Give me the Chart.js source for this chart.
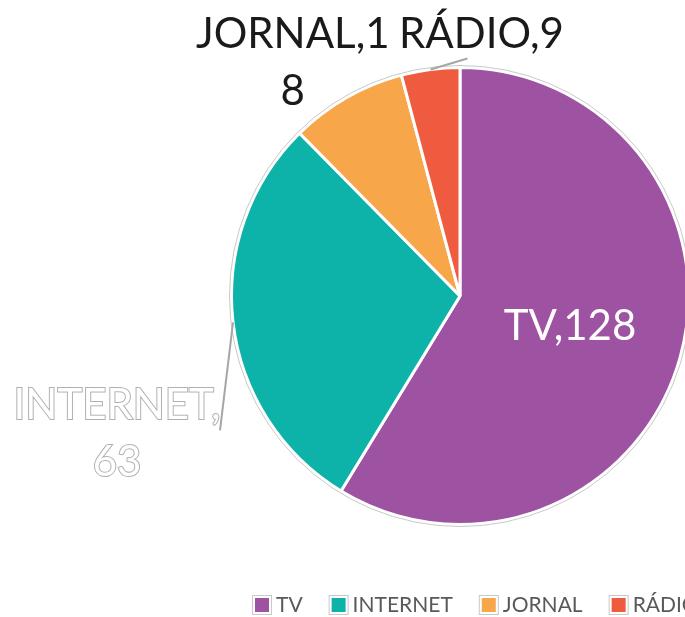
<!DOCTYPE html>
<html>
<head>
<meta charset="utf-8">
<script src="https://cdn.jsdelivr.net/npm/chart.js@4.4.1/dist/chart.umd.min.js"></script>
<style>
  html, body { margin: 0; padding: 0; background: #fff; overflow: hidden; }
  canvas { display: block; }
</style>
</head>
<body>
<canvas id="chart" width="720" height="617"></canvas>
<script>
// data
const categories = ['TV', 'INTERNET', 'JORNAL', 'RÁDIO'];
const values = [128, 63, 18, 9];
const sliceColors = ['#9E52A2', '#0DB2A8', '#F8A64A', '#EE5B3E'];

// where each value label goes (offset from the slice's outer edge point)
const labelLayout = [
    { inside: true, color: '#ffffff' },
    { dx: -116, dy: 83, maxWidth: 222, outline: true, line: { dx: -13, dy: 108 } },
    { dx: -54, dy: -63, maxWidth: 200, color: '#1a1a1a' },
    { dx: 51, dy: -35, maxWidth: 400, color: '#1a1a1a', line: { dx: 37, dy: -11 } },
];

const FONT = 'Lato, "Open Sans", sans-serif';

function wrapChars(ctx, text, maxWidth) {
    const lines = [];
    let cur = '';
    for (const ch of text) {
        if (cur && ctx.measureText(cur + ch).width > maxWidth) {
            lines.push(cur);
            cur = ch;
        } else {
            cur += ch;
        }
    }
    if (cur) lines.push(cur);
    return lines;
}

const pieLabels = {
    id: 'pieLabels',
    afterDatasetsDraw(chart) {
        const ctx = chart.ctx;
        const meta = chart.getDatasetMeta(0);
        const first = meta.data[0];

        // faint outline round the pie
        ctx.save();
        ctx.beginPath();
        ctx.arc(first.x, first.y, first.outerRadius + 2, 0, Math.PI * 2);
        ctx.strokeStyle = '#c8c8c8';
        ctx.lineWidth = 1;
        ctx.stroke();
        ctx.restore();

        meta.data.forEach((arc, i) => {
            const cfg = labelLayout[i];
            const text = categories[i] + ',' + chart.data.datasets[0].data[i];
            ctx.save();
            ctx.font = '42px ' + FONT;
            ctx.textAlign = 'center';
            ctx.textBaseline = 'middle';
            if (cfg.inside) {
                const p = arc.tooltipPosition();
                ctx.fillStyle = cfg.color;
                ctx.fillText(text, p.x, p.y);
                ctx.restore();
                return;
            }
            const mid = (arc.startAngle + arc.endAngle) / 2;
            const ax = arc.x + Math.cos(mid) * arc.outerRadius;
            const ay = arc.y + Math.sin(mid) * arc.outerRadius;
            if (cfg.line) {
                ctx.beginPath();
                ctx.moveTo(ax, ay);
                ctx.lineTo(ax + cfg.line.dx, ay + cfg.line.dy);
                ctx.strokeStyle = '#a6a6a6';
                ctx.lineWidth = 2;
                ctx.stroke();
            }
            const lines = wrapChars(ctx, text, cfg.maxWidth);
            lines.forEach((ln, k) => {
                const tx = ax + cfg.dx;
                const ty = ay + cfg.dy + k * 57;
                if (cfg.outline) {
                    ctx.lineWidth = 2;
                    ctx.strokeStyle = '#b0b0b0';
                    ctx.strokeText(ln, tx, ty);
                    ctx.fillStyle = '#ffffff';
                    ctx.fillText(ln, tx, ty);
                } else {
                    ctx.fillStyle = cfg.color;
                    ctx.fillText(ln, tx, ty);
                }
            });
            ctx.restore();
        });
    },
    afterDraw(chart) {
        // legend along the bottom
        const ctx = chart.ctx;
        ctx.save();
        ctx.font = '21px ' + FONT;
        ctx.textBaseline = 'middle';
        let x = 252;
        const y = 605;
        categories.forEach((name, i) => {
            ctx.strokeStyle = '#c8c8c8';
            ctx.lineWidth = 1;
            ctx.strokeRect(x + 0.5, y - 9.5, 19, 19);
            ctx.fillStyle = sliceColors[i];
            ctx.fillRect(x + 3, y - 7, 14, 14);
            ctx.fillStyle = '#595959';
            ctx.fillText(name, x + 24, y);
            x += 24 + ctx.measureText(name).width + 26;
        });
        ctx.restore();
    }
};

new Chart(document.getElementById('chart'), {
    type: 'pie',
    data: {
        labels: categories,
        datasets: [{
            data: values,
            backgroundColor: sliceColors,
            borderColor: '#ffffff',
            borderWidth: 3,
        }],
    },
    options: {
        responsive: false,
        animation: false,
        layout: {
            padding: { left: 230, right: 30, top: 66, bottom: 91 },
        },
        plugins: {
            legend: { display: false },
            tooltip: { enabled: false },
        },
    },
    plugins: [pieLabels],
});
</script>
</body>
</html>
